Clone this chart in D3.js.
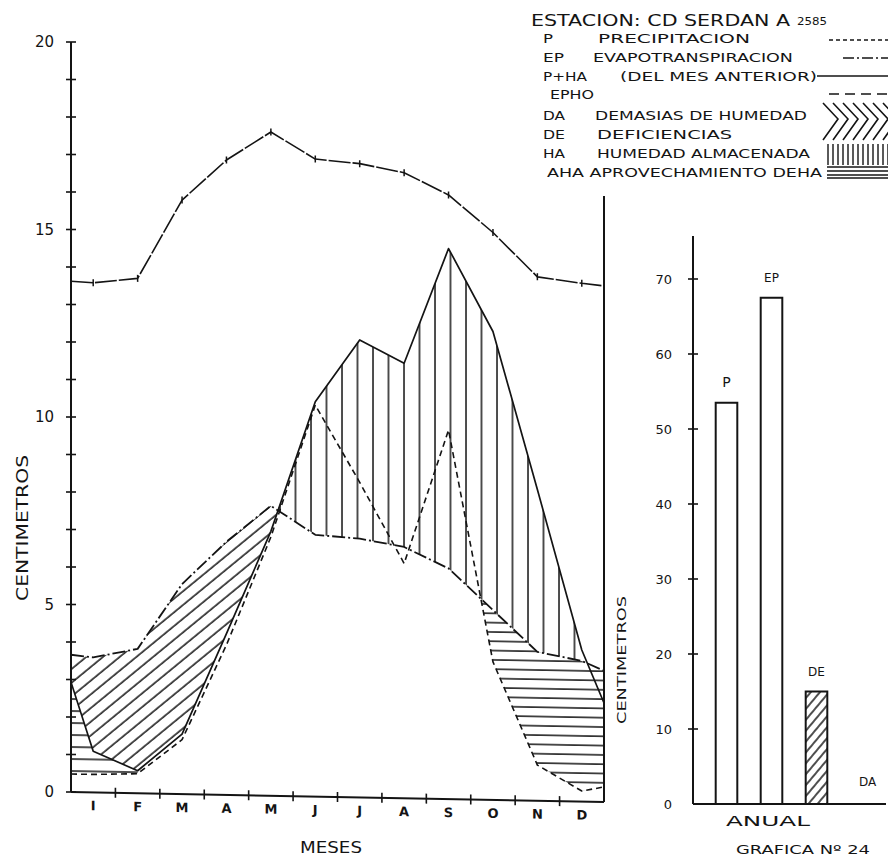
<!DOCTYPE html>
<html>
<head>
<meta charset="utf-8">
<script src="https://cdn.jsdelivr.net/npm/d3@7"></script>
<style>
  html, body { margin: 0; padding: 0; background: #fff; }
  svg { display: block; }
  text { font-family: "DejaVu Sans", "Liberation Sans", sans-serif; fill: #141414; }
</style>
</head>
<body>
<svg id="chart" width="888" height="857"></svg>
<script>
// Balance hídrico mensual — estación Cd. Serdán (2585 m)
const meses = ["I", "F", "M", "A", "M", "J", "J", "A", "S", "O", "N", "D"];
const ticksIzq = [0, 5, 10, 15, 20];

// curva superior con marcas "+" (valores mensuales y prolongación a los bordes)
const curvaSup = [13.59, 13.73, 15.84, 16.93, 17.70, 17.0, 16.9, 16.68, 16.11, 15.13, 13.97, 13.82];
const curvaSupBordes = [13.62, 13.76];
// EP evapotranspiración
const ep = [3.6, 3.85, 5.6, 6.75, 7.73, 6.98, 6.9, 6.7, 6.15, 5.06, 3.97, 3.75];
const epBordes = [3.66, 3.5];
// P precipitación
const p = [0.48, 0.52, 1.45, 4.0, 6.9, 10.44, 8.4, 6.26, 9.84, 3.68, 0.95, 0.28];
const pBordes = [0.48, 0.4];
// P+HA (del mes anterior)
const pha = [1.1, 0.6, 1.6, 4.3, 7.05, 10.53, 12.2, 11.6, 14.68, 12.49, 8.3, 4.04];
const phaBordes = [2.93, 2.64];

// totales anuales
const anualCat = ["P", "EP", "DE", "DA"];
const anualVal = [53.5, 67.5, 15, 0];
const ticksAnual = [0, 10, 20, 30, 40, 50, 60, 70];

const svg = d3.select("#chart");
const INK = "#141414";

// ---------- patterns ----------
const defs = svg.append("defs");
function hatch(id, w, h, rot, draw) {
  const pat = defs.append("pattern").attr("id", id)
    .attr("patternUnits", "userSpaceOnUse").attr("width", w).attr("height", h);
  if (rot) pat.attr("patternTransform", `rotate(${rot})`);
  draw(pat);
}
hatch("vert", 15.5, 10, 0, pt => pt.append("line").attr("x1", 1).attr("x2", 1).attr("y1", 0).attr("y2", 10)
  .attr("stroke", INK).attr("stroke-width", 1.5));
hatch("horiz", 10, 9.3, 0, pt => pt.append("line").attr("x1", 0).attr("x2", 10).attr("y1", 1).attr("y2", 1)
  .attr("stroke", INK).attr("stroke-width", 1.5));
hatch("horizL", 10, 12, 0, pt => pt.append("line").attr("x1", 0).attr("x2", 10).attr("y1", 3).attr("y2", 3)
  .attr("stroke", INK).attr("stroke-width", 1.5));
hatch("diag", 10, 10.5, -40, pt => pt.append("line").attr("x1", 0).attr("x2", 10).attr("y1", 2).attr("y2", 2)
  .attr("stroke", INK).attr("stroke-width", 1.5));
hatch("diagBar", 10, 7, -50, pt => pt.append("line").attr("x1", 0).attr("x2", 10).attr("y1", 2).attr("y2", 2)
  .attr("stroke", INK).attr("stroke-width", 1.5));

// ---------- monthly chart ----------
const x = d3.scaleLinear().domain([-0.5, 11.5]).range([71, 604]);
const y = d3.scaleLinear().domain([0, 20]).range([792, 42]);

const pos = [-0.5, ...d3.range(12), 11.5];
const full = (m, b) => [b[0], ...m, b[1]];
const sEP = full(ep, epBordes), sP = full(p, pBordes), sPHA = full(pha, phaBordes), sSup = full(curvaSup, curvaSupBordes);

function valAt(arr, t) {
  const i = Math.min(pos.length - 2, Math.max(0, d3.bisectRight(pos, t) - 1));
  const f = (t - pos[i]) / (pos[i + 1] - pos[i]);
  return arr[i] + (arr[i + 1] - arr[i]) * f;
}
// points of the band between an upper and a lower curve (zero width where they swap)
function region(up, lo, t0, t1) {
  const ts = new Set([t0, t1]);
  pos.forEach(t => { if (t > t0 && t < t1) ts.add(t); });
  for (let i = 0; i < pos.length - 1; i++) {
    const d0 = up[i] - lo[i], d1 = up[i + 1] - lo[i + 1];
    if (d0 * d1 < 0) {
      const tc = pos[i] + (pos[i + 1] - pos[i]) * d0 / (d0 - d1);
      if (tc > t0 && tc < t1) ts.add(tc);
    }
  }
  return [...ts].sort((a, b) => a - b).map(t => {
    const l = valAt(lo, t), u = valAt(up, t);
    return { t, lo: l, hi: Math.max(u, l) };
  });
}

// the sheet is drawn with a slight slant: the month axis drops toward the right
const plot = svg.append("g").attr("transform", "translate(71,792) skewY(1.07) translate(-71,-792)");

const band = d3.area().x(d => x(d.t)).y0(d => y(d.lo)).y1(d => y(d.hi));
plot.append("path").attr("d", band(region(sEP, sPHA, -0.5, 5))).attr("fill", "url(#diag)");
plot.append("path").attr("d", band(region(sPHA, sEP, 3, 11.5))).attr("fill", "url(#vert)");
plot.append("path").attr("d", band(region(sPHA, sP, -0.5, 1))).attr("fill", "url(#horizL)");
plot.append("path").attr("d", band(region(sEP, sP, 8, 11.5))).attr("fill", "url(#horiz)");

const line = d3.line().x((d, i) => x(pos[i])).y(d => y(d));
const drawLine = (data, dash, w) => plot.append("path").attr("d", line(data))
  .attr("fill", "none").attr("stroke", INK).attr("stroke-width", w)
  .attr("stroke-dasharray", dash).attr("stroke-linejoin", "round");

drawLine(sP, "6,4", 1.6);
drawLine(sEP, "13,3,2,3", 1.8);
drawLine(sPHA, null, 1.7);
drawLine(sSup, "22,2", 1.6);

// "+" marks on the upper curve
plot.selectAll("line.mark").data(curvaSup).join("line").attr("class", "mark")
  .attr("x1", (d, i) => x(i)).attr("x2", (d, i) => x(i))
  .attr("y1", d => y(d) - 3.5).attr("y2", d => y(d) + 3.5)
  .attr("stroke", INK).attr("stroke-width", 1.5);

// month axis
plot.append("line").attr("x1", x(-0.5)).attr("x2", x(11.5)).attr("y1", y(0)).attr("y2", y(0))
  .attr("stroke", INK).attr("stroke-width", 2);
plot.selectAll("line.mtick").data(d3.range(11)).join("line").attr("class", "mtick")
  .attr("x1", i => x(i + 0.5)).attr("x2", i => x(i + 0.5))
  .attr("y1", y(0) - 5).attr("y2", y(0) + 5).attr("stroke", INK).attr("stroke-width", 1.6);
plot.selectAll("text.mes").data(meses).join("text").attr("class", "mes")
  .attr("x", (d, i) => x(i)).attr("y", y(0) + 18).attr("text-anchor", "middle")
  .attr("font-size", 13).attr("font-weight", "bold").text(d => d);

// right border of the monthly chart
plot.append("line").attr("x1", x(11.5)).attr("x2", x(11.5)).attr("y1", 186).attr("y2", y(0))
  .attr("stroke", INK).attr("stroke-width", 2);

// value axis (left)
svg.append("line").attr("x1", 71).attr("x2", 71).attr("y1", y(20)).attr("y2", y(0))
  .attr("stroke", INK).attr("stroke-width", 2);
svg.selectAll("line.ytick").data(y.ticks(20)).join("line").attr("class", "ytick")
  .attr("x1", 66).attr("x2", 76).attr("y1", d => y(d)).attr("y2", d => y(d))
  .attr("stroke", INK).attr("stroke-width", 1.6);
const axL = svg.append("g").attr("transform", "translate(71,0)")
  .call(d3.axisLeft(y).tickValues(ticksIzq).tickSize(0).tickPadding(17));
axL.select(".domain").remove();
axL.selectAll("text").attr("font-size", 15).attr("font-family", "DejaVu Sans, sans-serif").attr("fill", INK);

svg.append("text").attr("transform", "translate(28,528) rotate(-90)")
  .attr("text-anchor", "middle").attr("font-size", 16)
  .attr("textLength", 146).attr("lengthAdjust", "spacingAndGlyphs").text("CENTIMETROS");
svg.append("text").attr("x", 331).attr("y", 853).attr("text-anchor", "middle")
  .attr("font-size", 15).attr("textLength", 62).attr("lengthAdjust", "spacingAndGlyphs").text("MESES");

// ---------- annual bars ----------
const yb = d3.scaleLinear().domain([0, 70]).range([804, 279]);
const xb = d3.scaleBand().domain(anualCat).range([704, 884]).paddingInner(0.52).paddingOuter(0.26);

svg.append("line").attr("x1", 693).attr("x2", 693).attr("y1", 236).attr("y2", yb(0))
  .attr("stroke", INK).attr("stroke-width", 2);
svg.append("line").attr("x1", 693).attr("x2", 886).attr("y1", yb(0)).attr("y2", yb(0))
  .attr("stroke", INK).attr("stroke-width", 2);
svg.selectAll("line.btick").data(ticksAnual.slice(1)).join("line").attr("class", "btick")
  .attr("x1", 688).attr("x2", 698).attr("y1", d => yb(d)).attr("y2", d => yb(d))
  .attr("stroke", INK).attr("stroke-width", 1.6);
const axB = svg.append("g").attr("transform", "translate(693,0)")
  .call(d3.axisLeft(yb).tickValues(ticksAnual).tickSize(0).tickPadding(21));
axB.select(".domain").remove();
axB.selectAll("text").attr("font-size", 13).attr("font-family", "DejaVu Sans, sans-serif").attr("fill", INK);

const barras = anualCat.map((c, i) => ({ c, v: anualVal[i] }));
svg.selectAll("rect.bar").data(barras.filter(d => d.v > 0)).join("rect").attr("class", "bar")
  .attr("x", d => xb(d.c)).attr("width", xb.bandwidth())
  .attr("y", d => yb(d.v)).attr("height", d => yb(0) - yb(d.v))
  .attr("fill", d => d.c === "DE" ? "url(#diagBar)" : "#fff")
  .attr("stroke", INK).attr("stroke-width", 2);
svg.selectAll("text.blab").data(barras).join("text").attr("class", "blab")
  .attr("x", d => xb(d.c) + xb.bandwidth() / 2 + (d.c === "DA" ? 6 : 0))
  .attr("y", d => yb(d.v) - (d.v > 0 ? 16 : 18)).attr("text-anchor", "middle")
  .attr("font-size", d => d.c === "P" ? 14 : 12).text(d => d.c);

svg.append("text").attr("x", 768).attr("y", 826).attr("text-anchor", "middle").attr("font-size", 14)
  .attr("textLength", 84).attr("lengthAdjust", "spacingAndGlyphs").text("ANUAL");
svg.append("text").attr("x", 736).attr("y", 854).attr("font-size", 13)
  .attr("textLength", 134).attr("lengthAdjust", "spacingAndGlyphs").text("GRAFICA Nº 24");
svg.append("text").attr("transform", "translate(626,660) rotate(-90)").attr("text-anchor", "middle")
  .attr("font-size", 12).attr("textLength", 128).attr("lengthAdjust", "spacingAndGlyphs").text("CENTIMETROS");

// ---------- legend ----------
const leg = svg.append("g");
const t = (x0, yb0, txt, fs, len) => leg.append("text").attr("x", x0).attr("y", yb0)
  .attr("font-size", fs).attr("textLength", len).attr("lengthAdjust", "spacingAndGlyphs").text(txt);
t(531, 26, "ESTACION: CD SERDAN A", 15, 259);
t(797, 25, "2585", 10, 30);
t(543, 43, "P", 13, 10); t(598, 43, "PRECIPITACION", 13, 152);
t(543, 62, "EP", 12, 21); t(593, 62, "EVAPOTRANSPIRACION", 11.5, 200);
t(543, 81, "P+HA", 12, 44); t(620, 81, "(DEL MES ANTERIOR)", 13, 197);
t(550, 99, "EPHO", 12, 44);
t(543, 120, "DA", 13, 22); t(595, 120, "DEMASIAS DE HUMEDAD", 12, 212);
t(543, 139, "DE", 13, 22); t(597, 139, "DEFICIENCIAS", 12, 135);
t(543, 158, "HA", 13, 22); t(597, 158, "HUMEDAD ALMACENADA", 12, 213);
t(547, 177, "AHA APROVECHAMIENTO DEHA", 12, 275);

const lg = (x1, x2, yy, dash) => leg.append("line").attr("x1", x1).attr("x2", x2).attr("y1", yy).attr("y2", yy)
  .attr("stroke", INK).attr("stroke-width", 1.6).attr("stroke-dasharray", dash);
lg(829, 888, 40, "4,3");
lg(843, 888, 58, "11,3,2,3");
lg(817, 888, 76, null);
lg(829, 888, 94, "10,6");
// DA / DE chevrons
d3.range(7).forEach(k => {
  const x0 = 823 + k * 10;
  leg.append("polyline").attr("points", `${x0},103 ${x0 + 15},119 ${x0},140`)
    .attr("fill", "none").attr("stroke", INK).attr("stroke-width", 1.6);
});
// HA sample
d3.range(13).forEach(k => leg.append("line").attr("x1", 828 + k * 5).attr("x2", 828 + k * 5)
  .attr("y1", 144).attr("y2", 165).attr("stroke", INK).attr("stroke-width", 1.4));
// AHA sample
[167, 171, 175, 178].forEach(yy => lg(827, 888, yy, null));
</script>
</body>
</html>
